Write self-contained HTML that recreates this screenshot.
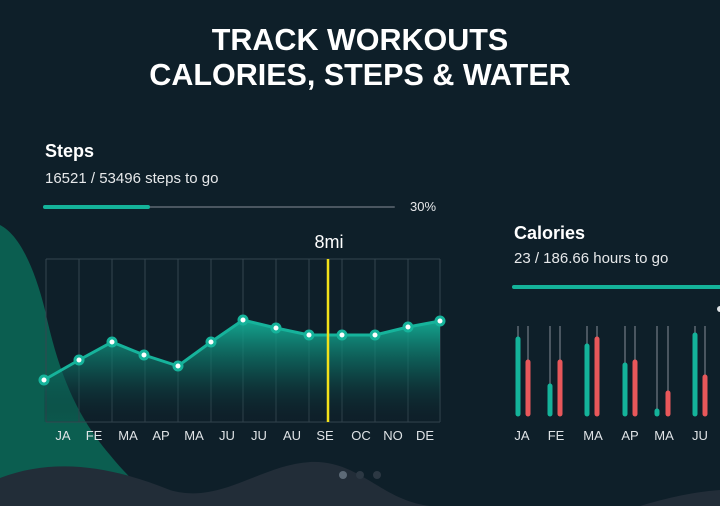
<!DOCTYPE html>
<html><head><style>
body{margin:0;width:720px;height:506px;overflow:hidden;background:#0e1f29;font-family:"Liberation Sans",sans-serif}
</style></head><body>
<svg width="720" height="506" viewBox="0 0 720 506" xmlns="http://www.w3.org/2000/svg" style="position:absolute;left:0;top:0">
<defs>
<linearGradient id="ar" gradientUnits="userSpaceOnUse" x1="0" y1="318" x2="0" y2="422">
<stop offset="0" stop-color="#14b39a" stop-opacity="0.95"/>
<stop offset="0.5" stop-color="#0d6a60" stop-opacity="0.6"/>
<stop offset="1" stop-color="#0e1f29" stop-opacity="0.1"/>
</linearGradient>
</defs>
<path d="M0,225 C20,235 35,270 45,310 C60,380 80,420 110,455 C130,480 150,495 160,506 L0,506 Z" fill="#0b5e50"/>
<path d="M0,478 C60,455 120,470 170,490 C220,505 260,465 310,462 C360,460 380,500 430,506 L720,506 L720,490 C690,492 660,500 640,506 L0,506 Z" fill="#222d38"/>
<text x="360" y="50" font-size="30.5" font-weight="bold" fill="#fff" text-anchor="middle">TRACK WORKOUTS</text>
<text x="360" y="85" font-size="30.5" font-weight="bold" fill="#fff" text-anchor="middle">CALORIES, STEPS &amp; WATER</text>
<text x="45" y="157" font-size="18" font-weight="bold" fill="#fff">Steps</text>
<text x="45" y="183" font-size="15" fill="#e6e8ea">16521 / 53496 steps to go</text>
<line x1="45" y1="207" x2="394" y2="207" stroke="#4a5660" stroke-width="2" stroke-linecap="round"/>
<line x1="45" y1="207" x2="148" y2="207" stroke="#14b39a" stroke-width="4" stroke-linecap="round"/>
<text x="410" y="211" font-size="13" fill="#e6e8ea">30%</text>
<text x="329" y="248" font-size="18" fill="#fff" text-anchor="middle">8mi</text>
<g stroke="#34454f" stroke-width="1">
<line x1="46" y1="259" x2="440" y2="259"/><line x1="46" y1="422" x2="440" y2="422"/>
<line x1="46" y1="259" x2="46" y2="422"/><line x1="79" y1="259" x2="79" y2="422"/><line x1="112" y1="259" x2="112" y2="422"/><line x1="145" y1="259" x2="145" y2="422"/><line x1="178" y1="259" x2="178" y2="422"/><line x1="211" y1="259" x2="211" y2="422"/><line x1="243" y1="259" x2="243" y2="422"/><line x1="276" y1="259" x2="276" y2="422"/><line x1="309" y1="259" x2="309" y2="422"/><line x1="342" y1="259" x2="342" y2="422"/><line x1="375" y1="259" x2="375" y2="422"/><line x1="408" y1="259" x2="408" y2="422"/><line x1="440" y1="259" x2="440" y2="422"/>
</g>
<path d="M44,380 L79,360 L112,342 L144,355 L178,366 L211,342 L243,320 L276,328 L309,335 L342,335 L375,335 L408,327 L440,321 L440,422 L44,422 Z" fill="url(#ar)"/>
<polyline points="44,380 79,360 112,342 144,355 178,366 211,342 243,320 276,328 309,335 342,335 375,335 408,327 440,321" fill="none" stroke="#16b39b" stroke-width="3"/>
<line x1="328" y1="259" x2="328" y2="422" stroke="#f2e21a" stroke-width="2.5"/>
<g fill="#fff" stroke="#16b39b" stroke-width="3">
<circle cx="44" cy="380" r="4"/><circle cx="79" cy="360" r="4"/><circle cx="112" cy="342" r="4"/><circle cx="144" cy="355" r="4"/><circle cx="178" cy="366" r="4"/><circle cx="211" cy="342" r="4"/><circle cx="243" cy="320" r="4"/><circle cx="276" cy="328" r="4"/><circle cx="309" cy="335" r="4"/><circle cx="342" cy="335" r="4"/><circle cx="375" cy="335" r="4"/><circle cx="408" cy="327" r="4"/><circle cx="440" cy="321" r="4"/>
</g>
<g font-size="13" fill="#dfe3e6" text-anchor="middle">
<text x="63" y="440">JA</text><text x="94" y="440">FE</text><text x="128" y="440">MA</text><text x="161" y="440">AP</text><text x="194" y="440">MA</text><text x="227" y="440">JU</text><text x="259" y="440">JU</text><text x="292" y="440">AU</text><text x="325" y="440">SE</text><text x="361" y="440">OC</text><text x="393" y="440">NO</text><text x="425" y="440">DE</text>
</g>
<circle cx="343" cy="475" r="4" fill="#5d6a77"/><circle cx="360" cy="475" r="4" fill="#2c3843"/><circle cx="377" cy="475" r="4" fill="#2c3843"/>
<text x="514" y="239" font-size="18" font-weight="bold" fill="#fff">Calories</text>
<text x="514" y="263" font-size="15" fill="#e6e8ea">23 / 186.66 hours to go</text>
<line x1="514" y1="287" x2="725" y2="287" stroke="#14b39a" stroke-width="4" stroke-linecap="round"/>
<circle cx="720" cy="309" r="3" fill="#dfe3e6"/>
<g stroke="#4a5660" stroke-width="2">
<line x1="518" y1="326" x2="518" y2="416"/><line x1="528" y1="326" x2="528" y2="416"/>
<line x1="550" y1="326" x2="550" y2="416"/><line x1="560" y1="326" x2="560" y2="416"/>
<line x1="587" y1="326" x2="587" y2="416"/><line x1="597" y1="326" x2="597" y2="416"/>
<line x1="625" y1="326" x2="625" y2="416"/><line x1="635" y1="326" x2="635" y2="416"/>
<line x1="657" y1="326" x2="657" y2="416"/><line x1="668" y1="326" x2="668" y2="416"/>
<line x1="695" y1="326" x2="695" y2="416"/><line x1="705" y1="326" x2="705" y2="416"/>
</g>
<g stroke-width="5" stroke-linecap="round">
<line x1="518" y1="339" x2="518" y2="414" stroke="#14b39a"/><line x1="528" y1="362" x2="528" y2="414" stroke="#e8575a"/>
<line x1="550" y1="386" x2="550" y2="414" stroke="#14b39a"/><line x1="560" y1="362" x2="560" y2="414" stroke="#e8575a"/>
<line x1="587" y1="346" x2="587" y2="414" stroke="#14b39a"/><line x1="597" y1="339" x2="597" y2="414" stroke="#e8575a"/>
<line x1="625" y1="365" x2="625" y2="414" stroke="#14b39a"/><line x1="635" y1="362" x2="635" y2="414" stroke="#e8575a"/>
<line x1="657" y1="411" x2="657" y2="414" stroke="#14b39a"/><line x1="668" y1="393" x2="668" y2="414" stroke="#e8575a"/>
<line x1="695" y1="335" x2="695" y2="414" stroke="#14b39a"/><line x1="705" y1="377" x2="705" y2="414" stroke="#e8575a"/>
</g>
<g font-size="13" fill="#dfe3e6" text-anchor="middle">
<text x="522" y="440">JA</text><text x="556" y="440">FE</text><text x="593" y="440">MA</text><text x="630" y="440">AP</text><text x="664" y="440">MA</text><text x="700" y="440">JU</text>
</g>
</svg>
</body></html>
